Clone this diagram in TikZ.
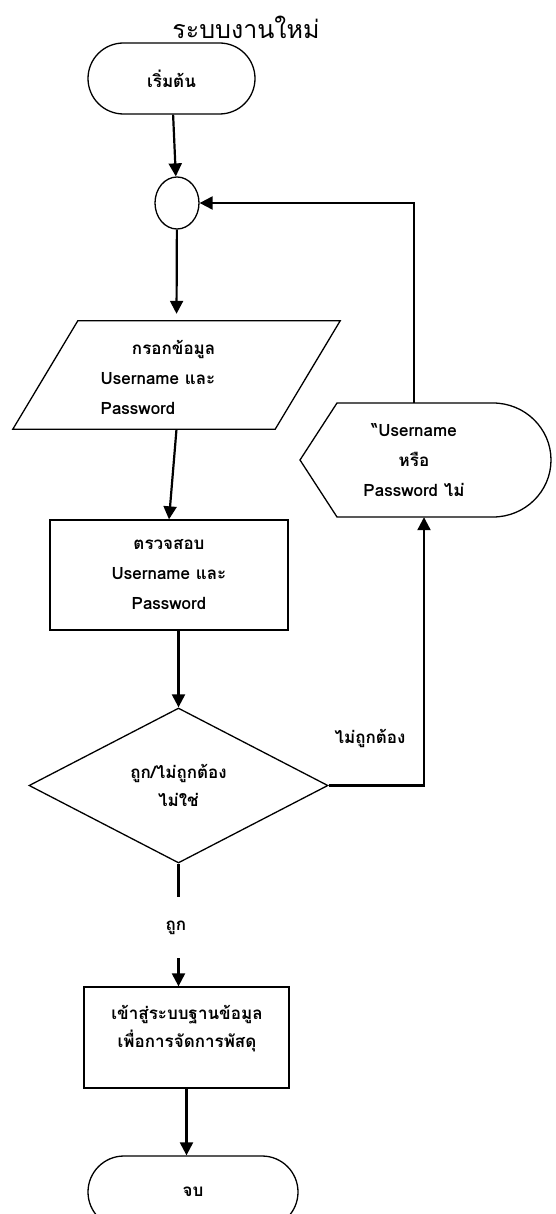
\documentclass[tikz,border=0pt]{standalone}
\usepackage{fontspec}
\setmainfont{Loma}[Script=Thai]
\usetikzlibrary{shapes.geometric,shapes.misc,arrows.meta}
\newcommand\lbl{\fontsize{17}{30}\selectfont\bfseries}

\begin{document}
\begin{tikzpicture}[x=1pt,y=-1pt,>={Triangle[length=13pt,width=13pt]}]
\tikzstyle{every node}+=[inner sep=0pt]
\tikzstyle{term}=[draw, rounded rectangle, line width=1.3pt, minimum width=167pt, minimum height=71pt, font=\lbl]
\tikzstyle{box}=[draw, rectangle, line width=1.3pt, font=\lbl, align=center]
\tikzstyle{conn}=[draw, line width=2.2pt]
\useasboundingbox (0,0) rectangle (555,1214);
\node[font=\fontsize{25}{30}\selectfont] (title) at (246,27) {ระบบงานใหม่};
\node[term] (start) at (171.5,78.5) {เริ่มต้น};
\node[draw, ellipse, line width=1.3pt, minimum width=44pt, minimum height=52pt] (join) at (177,203) {};
% input parallelogram
\node[minimum width=262pt, minimum height=108pt] (input) at (176.5,375) {};
\draw[line width=1.3pt] ([xshift=32.5pt]input.north west) -- ([xshift=32.5pt]input.north east)
  -- ([xshift=-32.5pt]input.south east) -- ([xshift=-32.5pt]input.south west) -- cycle;
\node[font=\lbl] (inputtext) at (158,378) {\begin{tabular}{@{}l@{}}\hfill กรอกข้อมูล\\Username และ\\Password\end{tabular}};
\node[box, minimum width=238pt, minimum height=110pt] (check) at (169,575) {ตรวจสอบ\\Username และ\\Password};
\node[draw, diamond, line width=1.3pt, minimum width=299pt, minimum height=155pt, align=center, font=\fontsize{17}{28}\selectfont\bfseries] (valid) at (178.5,785.5) {ถูก/ไม่ถูกต้อง\\ไม่ใช่};
% display shape
\draw[line width=1.3pt] (300,460) -- (337,403) -- (493,403) arc[start angle=90, end angle=-90, x radius=58pt, y radius=57pt] -- (337,517) -- cycle;
\node[font=\lbl, align=center, minimum height=114pt] (msg) at (414,460) {“Username\\หรือ\\Password ไม่};
\node[box, minimum width=205pt, minimum height=101pt] (db) at (186.5,1037.5) {};
\node[font=\fontsize{17}{28}\selectfont\bfseries, align=center] (dbtext) at (187,1029) {เข้าสู่ระบบฐานข้อมูล\\เพื่อการจัดการพัสดุ};
\node[term, minimum width=210pt, minimum height=72pt] (stop) at (193,1192) {จบ};
\node[font=\lbl] (no) at (370,738) {ไม่ถูกต้อง};
\node[font=\lbl, minimum height=61pt] (yes) at (176,927.5) {ถูก};
% connectors
\draw[conn,->] (start) -- (join);
\draw[conn,->,shorten >=7pt] (join) -- (input.north);
\draw[conn,->] (input.south) -- (check.north);
\draw[conn,->] (check.south -| valid.north) -- (valid.north);
\draw[conn,->] (valid.east) -| ([xshift=10pt]msg.south);
\draw[conn,->] (msg.north) |- (join.east);
\draw[conn] (valid.south) -- (valid.south |- yes.north);
\draw[conn,->] (valid.south |- yes.south) -- (valid.south |- db.north);
\draw[conn,->] (db.south) -- (db.south |- stop.north);
\end{tikzpicture}
\end{document}
